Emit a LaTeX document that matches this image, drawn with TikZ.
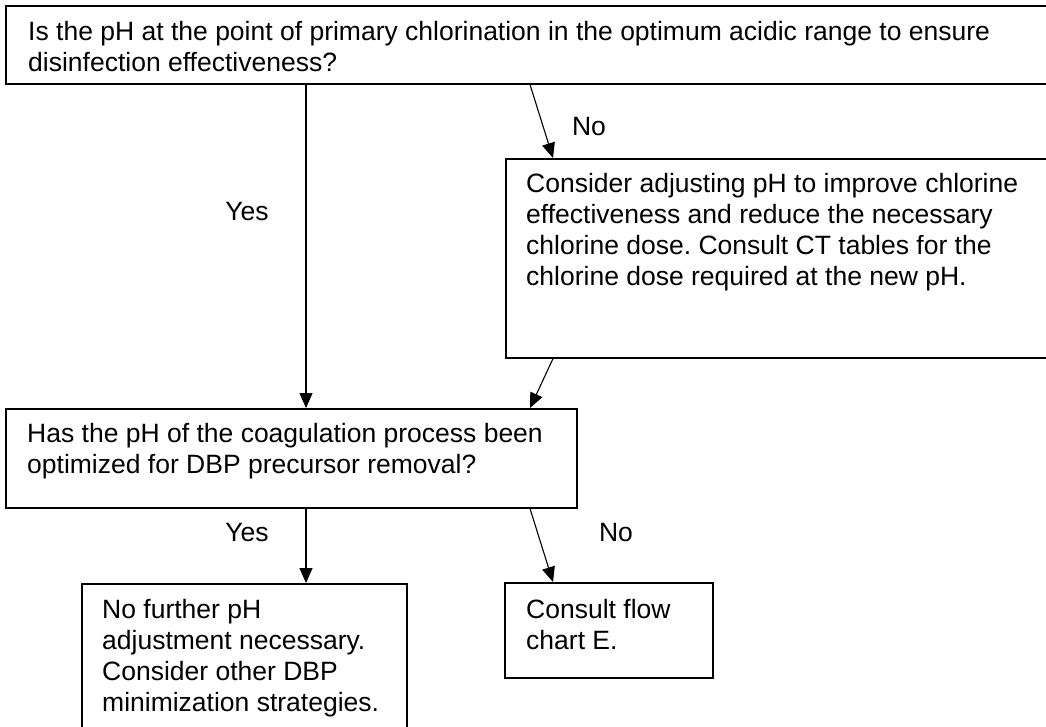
\documentclass[tikz,border=0pt]{standalone}
\usepackage{fontspec}
\setmainfont{Liberation Sans}
\usepackage{tikz}
\usetikzlibrary{arrows.meta,positioning,calc}

\frenchspacing
\newcommand\chartfont{\fontsize{26.5}{31}\selectfont}

\begin{document}
\begin{tikzpicture}[
    x=1pt, y=-1pt,
    box/.style={rectangle, draw, line width=1.6pt, anchor=north west, inner sep=0pt},
    txt/.style={anchor=north west, align=left, inner sep=0pt, font=\chartfont},
    lbl/.style={inner sep=0pt, font=\chartfont},
    arrow/.style={-{Triangle[length=15pt, width=13pt]}, line width=1.1pt}
]
\clip (0,0) rectangle (1046,726);

% question boxes
\node[box, minimum width=1060pt, minimum height=78pt] (chlor) at (5,5) {};
\node[txt] (chlor-text) at ([xshift=23pt, yshift=-16pt]chlor.north west) {Is the pH at the point of primary chlorination in the optimum acidic range to ensure\\disinfection effectiveness?};

\node[box, minimum width=560pt, minimum height=199pt] (adjust) at (505,158) {};
\node[txt] (adjust-text) at ([xshift=21pt, yshift=-15pt]adjust.north west) {Consider adjusting pH to improve chlorine\\effectiveness and reduce the necessary\\chlorine dose. Consult CT tables for the\\chlorine dose required at the new pH.};

\node[box, minimum width=571pt, minimum height=99pt] (coag) at (5,408) {};
\node[txt] (coag-text) at ([xshift=22pt, yshift=-15pt]coag.north west) {Has the pH of the coagulation process been\\optimized for DBP precursor removal?};

% answer boxes
\node[box, minimum width=325pt, minimum height=200pt] (nofurther) at (81,583) {};
\node[txt] (nofurther-text) at ([xshift=21pt, yshift=-16pt]nofurther.north west) {No further pH\\adjustment necessary.\\Consider other DBP\\minimization strategies.};

\node[box, minimum width=208pt, minimum height=95pt] (flowe) at (504,582) {};
\node[txt] (flowe-text) at ([xshift=22pt, yshift=-17pt]flowe.north west) {Consult flow\\chart E.};

% labels
\node[lbl] (yes1) at (247,212) {Yes};
\node[lbl] (no1) at (589,127) {No};
\node[lbl] (yes2) at (247,533) {Yes};
\node[lbl] (no2) at (616,533) {No};

\draw[arrow] ([xshift=301pt]chlor.south west) -- ([xshift=301pt]coag.north west);
\draw[arrow] ([xshift=525pt]chlor.south west) -- ([xshift=48pt]adjust.north west);
\draw[arrow] ([xshift=48pt]adjust.south west) -- ([xshift=525pt]coag.north west);
\draw[arrow] ([xshift=301pt]coag.south west) -- ([xshift=225pt]nofurther.north west);
\draw[arrow] ([xshift=525pt]coag.south west) -- ([xshift=49pt]flowe.north west);

\end{tikzpicture}
\end{document}
